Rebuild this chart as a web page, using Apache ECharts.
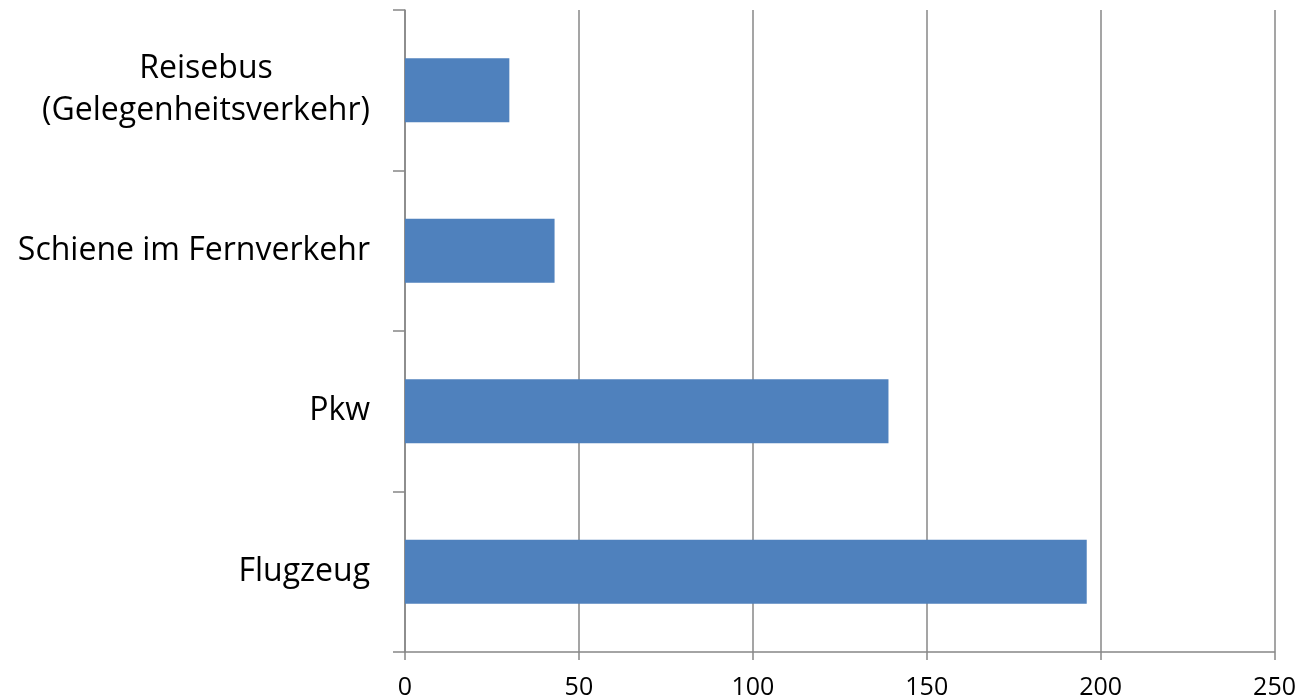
<!DOCTYPE html>
<html>
<head>
<meta charset="utf-8">
<script src="https://cdn.jsdelivr.net/npm/echarts@6/dist/echarts.min.js"></script>
<style>html,body{margin:0;padding:0;background:#fff}#c{width:1299px;height:700px}</style>
</head>
<body>
<div id="c"></div>
<script>
const categories = ['Flugzeug', 'Pkw', 'Schiene im Fernverkehr', 'Reisebus\n(Gelegenheitsverkehr)'];
const values = [196, 139, 43, 30];
const xTicks = { min: 0, max: 250, interval: 50 };

const chart = echarts.init(document.getElementById('c'));
chart.setOption({
  animation: false,
  backgroundColor: '#fff',
  grid: { left: 405, right: 23, top: 10, bottom: 46, containLabel: false },
  xAxis: {
    type: 'value', min: xTicks.min, max: xTicks.max, interval: xTicks.interval,
    axisLine: { show: true, lineStyle: { color: '#878787', width: 1.5 } },
    axisTick: { show: true, length: 8, lineStyle: { color: '#878787', width: 1.5 } },
    splitLine: { show: true, lineStyle: { color: '#878787', width: 1.5 } },
    axisLabel: { color: '#000', fontSize: 25, fontFamily: 'Open Sans', margin: 23 }
  },
  yAxis: {
    type: 'category', data: categories,
    axisLine: { show: true, lineStyle: { color: '#878787', width: 1.5 } },
    axisTick: { show: true, length: 12, lineStyle: { color: '#878787', width: 1.5 } },
    axisLabel: {
      color: '#000', fontSize: 32, fontFamily: 'Open Sans', margin: 35, lineHeight: 42,
      formatter: v => v.split('\n').map(s => '{c|' + s + '}').join('\n'),
      rich: { c: { align: 'center', fontSize: 32, fontFamily: 'Open Sans', lineHeight: 42, color: '#000' } }
    }
  },
  series: [{
    type: 'bar', data: values, barWidth: '40%',
    itemStyle: { color: '#4f81bd' }
  }]
});
</script>
</body>
</html>
